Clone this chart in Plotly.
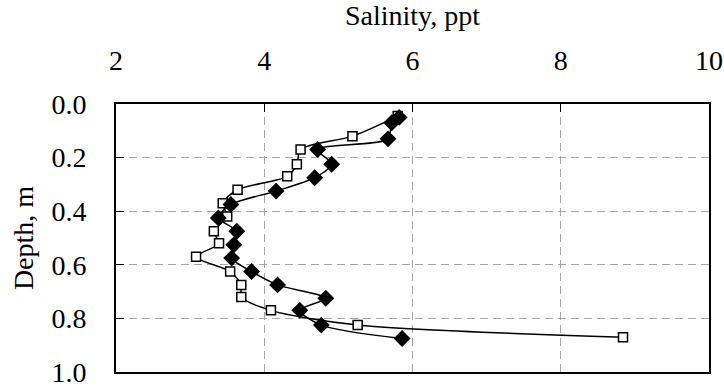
import plotly.graph_objects as go

# Salinity profiles (ppt) against depth (m)
depth_diamond = [0.05, 0.07, 0.13, 0.17, 0.225, 0.275, 0.325, 0.375, 0.425, 0.475,
                 0.525, 0.575, 0.625, 0.675, 0.725, 0.77, 0.825, 0.875]
sal_diamond = [5.82, 5.72, 5.67, 4.72, 4.91, 4.68, 4.16, 3.55, 3.38, 3.63,
               3.59, 3.56, 3.83, 4.18, 4.83, 4.48, 4.77, 5.86]

depth_square = [0.045, 0.12, 0.17, 0.225, 0.27, 0.32, 0.37, 0.42, 0.475, 0.52,
                0.57, 0.625, 0.675, 0.72, 0.77, 0.825, 0.87]
sal_square = [5.80, 5.19, 4.49, 4.44, 4.31, 3.64, 3.44, 3.50, 3.32, 3.39,
              3.08, 3.54, 3.69, 3.69, 4.09, 5.26, 8.84]

x_ticks = [2, 4, 6, 8, 10]
y_ticks = [0.0, 0.2, 0.4, 0.6, 0.8, 1.0]

FONT = "Liberation Serif"
FS = 28

fig = go.Figure()
fig.add_trace(go.Scatter(
    x=sal_square, y=depth_square, mode="lines+markers",
    line=dict(color="black", width=1.5, shape="spline", smoothing=0.8),
    marker=dict(symbol="square", size=9, color="white",
                line=dict(color="black", width=1.5)),
    showlegend=False,
))
fig.add_trace(go.Scatter(
    x=sal_diamond, y=depth_diamond, mode="lines+markers",
    line=dict(color="black", width=1.5, shape="spline", smoothing=0.8),
    marker=dict(symbol="diamond", size=13, color="black",
                line=dict(color="black", width=0)),
    showlegend=False,
))

fig.update_layout(
    width=724, height=389,
    margin=dict(l=116, r=15, t=104, b=17),
    paper_bgcolor="white", plot_bgcolor="white",
    font=dict(family=FONT, size=FS, color="black"),
    xaxis=dict(
        side="top", range=[2, 10], tickvals=x_ticks, automargin=False,
        tickfont=dict(family=FONT, size=FS),
        ticks="inside", ticklen=8, tickcolor="black", tickwidth=1,
        showgrid=True, gridcolor="#a6a6a6", griddash="8px,5px", gridwidth=1,
        showline=True, linecolor="black", linewidth=2, mirror=True,
        zeroline=False, ticklabelstandoff=21,
        title=dict(text="Salinity, ppt", standoff=12,
                   font=dict(family=FONT, size=FS)),
    ),
    yaxis=dict(
        range=[1.0, 0.0], tickvals=y_ticks, tickformat=".1f", automargin=False,
        tickfont=dict(family=FONT, size=FS),
        ticks="inside", ticklen=8, tickcolor="black", tickwidth=1,
        showgrid=True, gridcolor="#a6a6a6", griddash="8px,5px", gridwidth=1,
        showline=True, linecolor="black", linewidth=2, mirror=True,
        zeroline=False, ticklabelstandoff=22,
        title=dict(text="Depth, m", standoff=10,
                   font=dict(family=FONT, size=FS)),
    ),
)

fig.write_html("out.html")
